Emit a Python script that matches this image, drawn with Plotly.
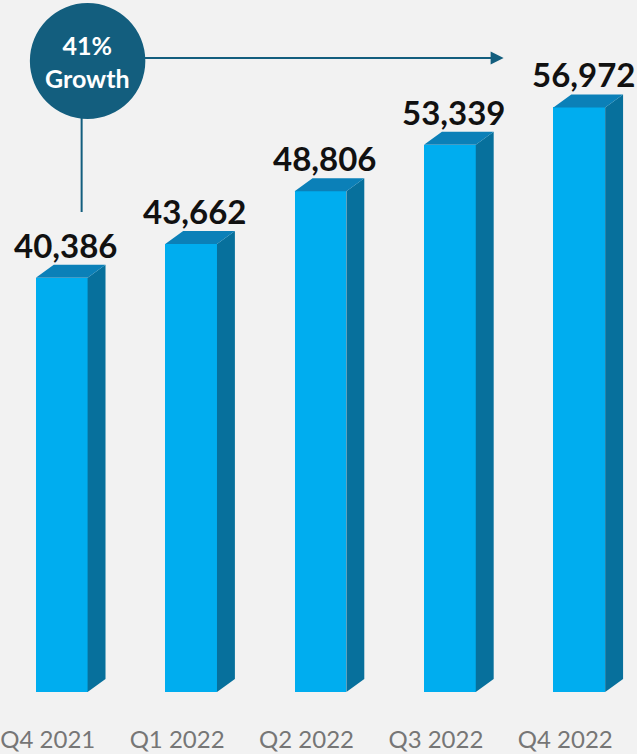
import plotly.graph_objects as go

categories = ["Q4 2021", "Q1 2022", "Q2 2022", "Q3 2022", "Q4 2022"]
values = [40386, 43662, 48806, 53339, 56972]
growth_text = "41%<br>Growth"

W, H = 637, 754
MB = 34
PH = H - MB
px_per_unit_x = 130.0
px_per_unit_y = 0.01026
base_px = 692

x0 = -59 / px_per_unit_x
x1 = x0 + W / px_per_unit_x
y_top = base_px / px_per_unit_y
y_bot = -(PH - base_px) / px_per_unit_y

bw = 0.4
dx = 18 / px_per_unit_x
dy = 13 / px_per_unit_y

FRONT = "#00ADEF"
SIDE = "#07709C"
TOP = "#0B80B8"
DARK = "#135E7E"

xs = list(range(len(values)))

fig = go.Figure()
fig.add_trace(go.Bar(x=xs, y=values, width=bw, marker=dict(color=FRONT, line=dict(width=0)),
                     hoverinfo="skip", showlegend=False))

sx, sy, tx, ty = [], [], [], []
for i, v in zip(xs, values):
    r = i + bw / 2
    l = i - bw / 2
    sx += [r, r + dx, r + dx, r, r, None]
    sy += [0, dy, v + dy, v, 0, None]
    tx += [l, l + dx, r + dx, r, l, None]
    ty += [v, v + dy, v + dy, v, v, None]
fig.add_trace(go.Scatter(x=sx, y=sy, fill="toself", fillcolor=SIDE, mode="lines",
                         line=dict(width=0, color=SIDE), hoverinfo="skip", showlegend=False))
fig.add_trace(go.Scatter(x=tx, y=ty, fill="toself", fillcolor=TOP, mode="lines",
                         line=dict(width=0, color=TOP), hoverinfo="skip", showlegend=False))

for i, v in zip(xs, values):
    fig.add_annotation(x=i + 0.03, y=v + dy, text=f"{v:,}", showarrow=False,
                       xanchor="center", yanchor="bottom", yshift=-2,
                       font=dict(family="Lato", size=33, color="#111111", weight="bold"))

def py(p):
    return (PH - p) / PH

def pxf(p):
    return p / W

# growth circle
cx, cy, r = 85, 61, 58
fig.add_shape(type="line", xref="paper", yref="paper", x0=pxf(79), x1=pxf(79), y0=py(cy), y1=py(212),
              line=dict(color=DARK, width=2))
fig.add_annotation(xref="paper", yref="paper", x=pxf(503), y=py(58), ax=-(503 - cx), ay=0,
                   axref="pixel", ayref="pixel", text="", showarrow=True, arrowhead=2,
                   arrowsize=1.3, arrowwidth=2, arrowcolor=DARK)
fig.add_shape(type="circle", xref="paper", yref="paper", x0=pxf(cx - r), x1=pxf(cx + r),
              y0=py(cy + r), y1=py(cy - r), fillcolor=DARK, line=dict(width=0), layer="above")
fig.add_annotation(xref="paper", yref="paper", x=pxf(cx), y=py(cy), text=growth_text, showarrow=False,
                   xanchor="center", yanchor="middle",
                   font=dict(family="Lato", size=25, color="white", weight="bold"))

fig.update_layout(
    width=W, height=H,
    margin=dict(l=0, r=0, t=0, b=MB),
    paper_bgcolor="#F2F2F2", plot_bgcolor="#F2F2F2",
    bargap=0,
    xaxis=dict(range=[x0, x1], tickvals=[i - 0.108 for i in xs], ticktext=categories,
               showgrid=False, zeroline=False, showline=False, ticks="", ticklen=0,
               ticklabeloverflow="allow", ticklabelstandoff=3,
               tickfont=dict(family="Lato", size=24, color="#767676"), fixedrange=True),
    yaxis=dict(range=[y_bot, y_top], visible=False, fixedrange=True),
    showlegend=False,
)

fig.write_html("out.html", config={"displayModeBar": False})
